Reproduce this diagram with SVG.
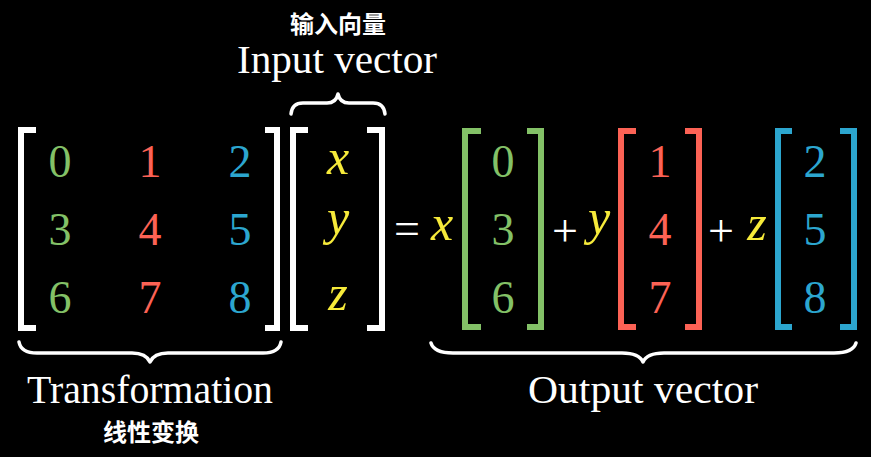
<svg xmlns="http://www.w3.org/2000/svg" width="871" height="457" viewBox="0 0 871 457">
<style>
text{font-family:"Liberation Serif","Times New Roman",serif;text-anchor:middle}
.num{font-size:46px}
.var{font-style:italic;font-size:50px;fill:#F6EA3A}
.op{font-size:46px;fill:#ffffff}
.lbl{font-size:39px;fill:#ffffff}
text.cjk{font-family:"Noto Sans CJK SC","Noto Sans",sans-serif;font-size:24px;font-weight:bold;fill:#ffffff}
.br{fill:none;stroke-width:6;stroke-linecap:butt;stroke-linejoin:miter}
.w{stroke:#ffffff}
.g{fill:#83C167}
.gs{stroke:#83C167}
.r{fill:#FC6255}
.rs{stroke:#FC6255}
.b{fill:#2CA6CF}
.bs{stroke:#2CA6CF}
.brace{fill:none;stroke:#ffffff;stroke-width:3.5;stroke-linecap:round;stroke-linejoin:round}
</style>
<rect width="871" height="457" fill="#000000"/>
<g id="matrix">
  <path class="br w" d="M36,130 H21 V328 H36"/>
  <path class="br w" d="M265,130 H277 V328 H265"/>
  <text class="num g" x="60" y="177">0</text>
  <text class="num r" x="150" y="177">1</text>
  <text class="num b" x="240" y="177">2</text>
  <text class="num g" x="60" y="245">3</text>
  <text class="num r" x="150" y="245">4</text>
  <text class="num b" x="240" y="245">5</text>
  <text class="num g" x="60" y="313">6</text>
  <text class="num r" x="150" y="313">7</text>
  <text class="num b" x="240" y="313">8</text>
</g>
<g id="input-vector">
  <path class="br w" d="M308,130 H293 V328 H308"/>
  <path class="br w" d="M367,130 H382 V328 H367"/>
  <text class="var" x="338" y="174">x</text>
  <text class="var" x="338" y="234">y</text>
  <text class="var" x="338" y="310">z</text>
</g>
<g id="equals">
  <text class="op" x="407" y="244">=</text>
</g>
<g id="term-x">
  <text class="var" x="442" y="240">x</text>
  <path class="br gs" d="M481,131 H465 V327 H481"/>
  <path class="br gs" d="M527,131 H541 V327 H527"/>
  <text class="num g" x="503" y="177">0</text>
  <text class="num g" x="503" y="245">3</text>
  <text class="num g" x="503" y="313">6</text>
</g>
<g id="plus1">
  <text class="op" x="565" y="246">+</text>
</g>
<g id="term-y">
  <text class="var" x="599" y="234">y</text>
  <path class="br rs" d="M636,131 H621 V327 H636"/>
  <path class="br rs" d="M685,131 H699 V327 H685"/>
  <text class="num r" x="660" y="177">1</text>
  <text class="num r" x="660" y="245">4</text>
  <text class="num r" x="660" y="313">7</text>
</g>
<g id="plus2">
  <text class="op" x="721" y="246">+</text>
</g>
<g id="term-z">
  <text class="var" x="757" y="240">z</text>
  <path class="br bs" d="M792,131 H778 V327 H792"/>
  <path class="br bs" d="M840,131 H854 V327 H840"/>
  <text class="num b" x="815" y="177">2</text>
  <text class="num b" x="815" y="245">5</text>
  <text class="num b" x="815" y="313">8</text>
</g>
<g id="connectors">
  <path class="brace" d="M291,114 Q292,103 303,103 H327 Q336,103 338,94 Q340,103 349,103 H373 Q384,103 385,114"/>
  <path class="brace" d="M19,342 Q21,353 37,353 H132 Q146,353 150,362 Q154,353 168,353 H263 Q279,353 281,342"/>
  <path class="brace" d="M431,343 Q434,353 453,353 H622 Q639,353 643,362 Q647,353 664,353 H834 Q853,353 856,343"/>
</g>
<g id="label-input">
  <text class="cjk" x="338" y="33">输入向量</text>
  <text class="lbl" x="337" y="73" style="font-size:40px" textLength="200" lengthAdjust="spacingAndGlyphs">Input vector</text>
</g>
<g id="label-transformation">
  <text class="lbl" x="150" y="403" textLength="246" lengthAdjust="spacingAndGlyphs">Transformation</text>
  <text class="cjk" x="151" y="441">线性变换</text>
</g>
<g id="label-output">
  <text class="lbl" x="643" y="403" textLength="230" lengthAdjust="spacingAndGlyphs">Output vector</text>
</g>
</svg>
